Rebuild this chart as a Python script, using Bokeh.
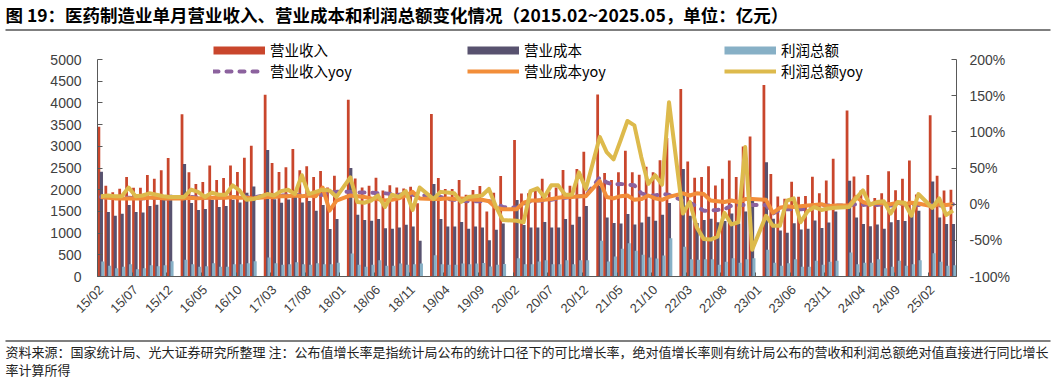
import math
from bokeh.plotting import figure
from bokeh.layouts import column
from bokeh.models import (Range1d, LinearAxis, FixedTicker, PrintfTickFormatter, Label,
                          Legend, LegendItem, BoxAnnotation, ColumnDataSource)
from bokeh.transform import dodge
from bokeh.embed import file_html
from bokeh.resources import INLINE

# ---------------- data ----------------
months = [
    "15/02", "15/03", "15/04", "15/05", "15/06", "15/07", "15/08", "15/09", "15/10", "15/11", "15/12",
    "16/01", "16/02", "16/03", "16/04", "16/05", "16/06", "16/07", "16/08", "16/09", "16/10", "16/11", "16/12",
    "17/01", "17/02", "17/03", "17/04", "17/05", "17/06", "17/07", "17/08", "17/09", "17/10", "17/11", "17/12",
    "18/01", "18/02", "18/03", "18/04", "18/05", "18/06", "18/07", "18/08", "18/09", "18/10", "18/11", "18/12",
    "19/01", "19/02", "19/03", "19/04", "19/05", "19/06", "19/07", "19/08", "19/09", "19/10", "19/11", "19/12",
    "20/01", "20/02", "20/03", "20/04", "20/05", "20/06", "20/07", "20/08", "20/09", "20/10", "20/11", "20/12",
    "21/01", "21/02", "21/03", "21/04", "21/05", "21/06", "21/07", "21/08", "21/09", "21/10", "21/11", "21/12",
    "22/01", "22/02", "22/03", "22/04", "22/05", "22/06", "22/07", "22/08", "22/09", "22/10", "22/11", "22/12",
    "23/01", "23/02", "23/03", "23/04", "23/05", "23/06", "23/07", "23/08", "23/09", "23/10", "23/11", "23/12",
    "24/01", "24/02", "24/03", "24/04", "24/05", "24/06", "24/07", "24/08", "24/09", "24/10", "24/11", "24/12",
    "25/01", "25/02", "25/03", "25/04", "25/05",
]

tick_labels = ["15/02", "15/07", "15/12", "16/05", "16/10", "17/03", "17/08", "18/01", "18/06",
               "18/11", "19/04", "19/09", "20/02", "20/07", "20/12", "21/05", "21/10", "22/03",
               "22/08", "23/01", "23/06", "23/11", "24/04", "24/09", "25/02"]

# 营业收入 (亿元)
revenue = [
    3450, 2090, 1940, 2020, 2290, 2045, 2045, 2340, 2250, 2450, 2730,
    None, 3740, 2400, 2130, 2180, 2555, 2225, 2270, 2555, 2405, 2735, 3010,
    None, 4185, 2615, 2405, 2515, 2940, 2450, 2540, 2290, 2430, 2050, 2320,
    None, 4070, 2260, 2050, 2090, 2275, 1980, 2100, 2050, 2030, 2070, 1690,
    None, 3745, 2270, 2015, 2015, 2225, 1885, 1995, 2085, 1500, 1930, 2315,
    None, 3145, 1915, 1920, 1980, 2250, 1950, 2050, 2455, 2090, 2475, 2875,
    None, 4195, 2385, 2225, 2400, 2900, 2400, 2345, 2530, 2400, 2680, 3190,
    None, 4320, 2648, 2275, 2295, 2540, 2095, 2250, 2670, 2295, 2995, 3225,
    None, 4410, 2363, 1845, 1790, 2183, 1840, 1852, 2298, 1918, 2210, 2713,
    None, 3823, 2304, 1980, 2340, 1810, 1920, 2425, 1990, 2255, 2670, 1889,
    None, 3715, 2320, 1980, 2000,
]

# 营业成本 (亿元)
cost = [
    2415, 1484, 1400, 1446, 1646, 1484, 1477, 1623, 1653, 1760, 1884,
    None, 2592, 1692, 1530, 1553, 1769, 1600, 1623, 1769, 1707, 1930, 2075,
    None, 2915, 1780, 1700, 1776, 1990, 1707, 1738, 1515, 1646, 1092, 1323,
    None, 2499, 1423, 1300, 1284, 1323, 1110, 1100, 1130, 1192, 1153, 823,
    None, 2130, 1323, 1153, 1153, 1253, 1100, 1153, 1130, 838, 1077, 1223,
    None, 1761, 1184, 1130, 1130, 1253, 1130, 1130, 1323, 1192, 1377, 1623,
    None, 2092, 1361, 1230, 1223, 1438, 1200, 1246, 1377, 1284, 1423, 1692,
    None, 2476, 1400, 1230, 1300, 1330, 1250, 1280, 1450, 1220, 1500, 1750,
    None, 2630, 1329, 1060, 1006, 1229, 1083, 1098, 1290, 1115, 1246, 1500,
    None, 2207, 1361, 1210, 1160, 1200, 1100, 1250, 1300, 1280, 1430, 1515,
    None, 2190, 1361, 1210, 1210,
]

# 利润总额 (亿元)
profit = [
    346, 246, 192, 223, 285, 169, 192, 261, 238, 261, 354,
    None, 385, 285, 223, 238, 308, 223, 223, 285, 285, 308, 354,
    None, 438, 308, 269, 285, 330, 285, 270, 308, 285, 285, 315,
    None, 531, 269, 223, 269, 377, 250, 250, 300, 269, 285, 300,
    None, 492, 285, 270, 270, 300, 285, 300, 310, 230, 270, 290,
    None, 423, 285, 285, 346, 377, 285, 285, 377, 285, 377, 377,
    None, 823, 346, 461, 638, 769, 592, 500, 438, 415, 484, 884,
    None, 684, 400, 385, 400, 400, 269, 338, 423, 315, 400, 423,
    None, 615, 315, 246, 308, 400, 223, 223, 361, 269, 338, 361,
    None, 554, 285, 315, 315, 400, 192, 223, 361, 246, 285, 377,
    None, 538, 338, 246, 261,
]

# 营业收入yoy (%)
revenue_yoy = [
    10, 9, 9, 8, 9, 8, 8, 9, 9, 8, 8,
    None, 9, 10, 9, 9, 10, 9, 10, 10, 9, 10, 9,
    None, 13, 12, 12, 12, 13, 12, 13, 12, 13, 16, 17,
    None, 17, 16, 16, 16, 15, 15, 14, 13, 14, 13, 12,
    None, 12, 10, 7, 6, 5, 4, 4, 4, 4, 2, -4,
    None, -5, 0, 4, 5, 5, 6, 8, 9, 10, 11, 12,
    None, 37, 30, 27, 28, 27, 26, 15, 12, 12, 14, 13,
    None, 5, 2, -3, -9, -9, -8, -7, -2, -1, -1, -1,
    None, -1, -13, -8, -7, -7, -7, -6, -3, -2, -2, -2,
    None, -2, 0, -1, 0, -1, 0, -2, 1, 0, -2, -1,
    None, -1, -2, -1, 0,
]

# 营业成本yoy (%)
cost_yoy = [
    10, 9, 8, 8, 8, 8, 8, 9, 9, 8, 8,
    None, 8, 9, 8, 9, 9, 9, 9, 10, 9, 9, 8,
    None, 10, 10, 11, 11, 12, 11, 12, 11, 23, -9, 5,
    None, 12, 11, 10, 8, 7, 5, 6, 8, 12, 17, 8,
    None, 7, 7, 8, 7, 8, 7, 6, 6, 4, -5, -7,
    None, -7, 2, 5, 5, 6, 7, 9, 10, 10, 11, 11,
    None, 32, 10, 8, 11, 12, 6, 7, 12, 8, 6, 10,
    None, 15, 12, 15, 14, 5, 4, 3, 5, 3, 7, 7,
    None, 6, -12, -5, -3, -4, -3, -2, -1, 0, -3, -2,
    None, -2, 10, 3, 0, 2, 1, 0, 2, 0, 2, 1,
    None, -3, 0, -1, 0,
]

# 利润总额yoy (%)
profit_yoy = [
    11, 12, 11, 11, 23, 11, 12, 15, 13, 11, 10,
    None, 10, 20, 17, 10, 16, 13, 13, 26, 19, 6, 7,
    None, 14, 12, 18, 20, 14, 40, 14, 17, 20, 19, 10,
    None, 37, 3, 2, 5, 12, -4, 13, 10, 18, -8, 23,
    None, 7, 17, 16, 15, 3, 10, 11, 12, 21, -3, -22,
    None, -23, -25, 18, 22, 10, 26, 26, 13, 13, 44, 21,
    None, 93, 72, 62, 88, 115, 109, 65, 28, 40, 27, 141,
    None, -13, 3, -32, -48, -49, -45, -12, -28, -25, 79, -63,
    None, -16, -30, -30, 5, 8, -25, -10, -4, -8, -6, -5,
    None, -4, 8, 19, -1, 3, 4, -13, 3, 2, -16, 14,
    None, -5, 8, -15, -9,
]

TITLE = "图 19：医药制造业单月营业收入、营业成本和利润总额变化情况（2015.02~2025.05，单位：亿元）"
NOTE1 = "资料来源：国家统计局、光大证券研究所整理  注：公布值增长率是指统计局公布的统计口径下的可比增长率，绝对值增长率则有统计局公布的营收和利润总额绝对值直接进行同比增长"
NOTE2 = "率计算所得"

RED = "#C9462C"
DARK = "#58526F"
LIGHT = "#87B0C6"
PURPLE = "#8C629E"
ORANGE = "#F28E3A"
YELLOW = "#DDBA4C"
AXIS = "#595959"
RULE = "#7F7F7F"
CJK = "Noto Sans CJK SC"
LAT = "Liberation Sans"

W = 1055
TOP_H = 40            # canvas rows 0..40   : title + rule
MAIN_H = 290          # canvas rows 40..330 : chart
BOT_H = 49            # canvas rows 330..379: notes
F_LEFT, F_RIGHT = 97, 956      # plot-area left/right (px)
F_TOP, F_BOT = 40, 276         # frame top/bottom (px); value axes span 59..276
AX_TOP = 59


def no_align(f):
    try:
        f.frame_align = False
    except Exception:
        pass


def blank(h):
    f = figure(width=W, height=h, x_range=Range1d(0, 1), y_range=Range1d(0, 1),
               output_backend="svg", toolbar_location=None, title=None,
               x_axis_type=None, y_axis_type=None,
               min_border_left=0, min_border_right=0, min_border_top=0, min_border_bottom=0)
    f.outline_line_color = None
    f.background_fill_color = "white"
    f.border_fill_color = "white"
    no_align(f)
    return f


def hrule(f, h, y0, y1):
    f.add_layout(BoxAnnotation(left=5, right=1050, top=h - y0, bottom=h - y1,
                               left_units="screen", right_units="screen",
                               top_units="screen", bottom_units="screen",
                               fill_color=RULE, fill_alpha=1, line_color=None))


# ---------------- top: title ----------------
top = blank(TOP_H)
top.add_layout(Label(x=5, y=TOP_H - 13.5, x_units="screen", y_units="screen", text=TITLE,
                     text_baseline="middle", text_align="left", text_font=CJK,
                     text_font_size="17.5px", text_font_style="bold", text_color="#000000"))
hrule(top, TOP_H, 28.5, 30.5)

# ---------------- main chart ----------------
frame_h = F_BOT - F_TOP
axis_h = F_BOT - AX_TOP
y_max = 5000
yoy_min, yoy_max = -100, 200
p = figure(width=W, height=MAIN_H, x_range=Range1d(-0.5, len(months) - 0.5),
           y_range=Range1d(0, y_max * frame_h / axis_h),
           output_backend="svg", toolbar_location=None, title=None,
           min_border_left=F_LEFT, min_border_right=W - F_RIGHT,
           min_border_top=0, min_border_bottom=MAIN_H - (F_BOT - F_TOP))
no_align(p)
p.extra_y_ranges = {"yoy": Range1d(yoy_min, yoy_min + (yoy_max - yoy_min) * frame_h / axis_h)}
p.xgrid.grid_line_color = None
p.ygrid.grid_line_color = None
p.outline_line_color = None
p.background_fill_color = "white"
p.border_fill_color = "white"


def valid(vals):
    xs = [i for i, v in enumerate(vals) if v is not None]
    return xs, [vals[i] for i in xs]


bx, rv = valid(revenue)
_, cv = valid(cost)
_, pv = valid(profit)
bars = ColumnDataSource(dict(x=bx, revenue=rv, cost=cv, profit=pv))
p.vbar(x=dodge("x", -0.30, range=p.x_range), top="revenue", width=0.40, source=bars,
       fill_color=RED, line_color=None)
p.vbar(x=dodge("x", 0.06, range=p.x_range), top="cost", width=0.46, source=bars,
       fill_color=DARK, line_color=None)
p.vbar(x=dodge("x", 0.26, range=p.x_range), top="profit", width=0.44, source=bars,
       fill_color=LIGHT, line_color=None)

lx, ry = valid(revenue_yoy)
_, cy = valid(cost_yoy)
_, py = valid(profit_yoy)
lines = ColumnDataSource(dict(x=lx, rev=ry, cost=cy, prof=py))
l_rev = p.line("x", "rev", source=lines, y_range_name="yoy", line_color=PURPLE, line_width=4,
               line_dash="5 8", line_cap="round", line_join="round")
l_cost = p.line("x", "cost", source=lines, y_range_name="yoy", line_color=ORANGE, line_width=4,
                line_join="round")
l_prof = p.line("x", "prof", source=lines, y_range_name="yoy", line_color=YELLOW, line_width=4,
                line_join="round")

# legend proxies for the bar series (a single NaN point, draws nothing in the plot)
nan = float("nan")
px_red = p.line(x=[nan], y=[nan], line_color=RED, line_width=8)
px_dark = p.line(x=[nan], y=[nan], line_color=DARK, line_width=8)
px_light = p.line(x=[nan], y=[nan], line_color=LIGHT, line_width=8)

# axes
xa = p.xaxis[0]
tick_pos = [months.index(t) for t in tick_labels]
xa.ticker = FixedTicker(ticks=tick_pos, minor_ticks=[k - 0.5 for k in range(0, len(months) + 1, 5)])
xa.major_label_overrides = {pos: lab for pos, lab in zip(tick_pos, tick_labels)}
xa.major_label_orientation = math.pi / 4
xa.major_tick_line_color = None
xa.minor_tick_in = 4
xa.minor_tick_out = 0
xa.minor_tick_line_color = AXIS
xa.axis_line_color = AXIS
xa.major_label_standoff = 5
xa.major_label_text_font = LAT
xa.major_label_text_font_size = "13px"
xa.major_label_text_color = "#404040"

ya = p.yaxis[0]
ya.ticker = FixedTicker(ticks=list(range(0, y_max + 1, 500)))
ya.bounds = (0, y_max)
ya.major_tick_in = 5
ya.major_tick_out = 0
ya.minor_tick_line_color = None
ya.axis_line_color = AXIS
ya.major_tick_line_color = AXIS
ya.major_label_standoff = 16
ya.major_label_text_font = LAT
ya.major_label_text_font_size = "14px"
ya.major_label_text_color = "#404040"

ra = LinearAxis(y_range_name="yoy", ticker=FixedTicker(ticks=list(range(yoy_min, yoy_max + 1, 50))),
                formatter=PrintfTickFormatter(format="%d%%"), bounds=(yoy_min, yoy_max))
ra.major_tick_in = 5
ra.major_tick_out = 0
ra.minor_tick_line_color = None
ra.axis_line_color = AXIS
ra.major_tick_line_color = AXIS
ra.major_label_standoff = 13
ra.major_label_text_font = LAT
ra.major_label_text_font_size = "14px"
ra.major_label_text_color = "#404040"
p.add_layout(ra, "right")


# legends: one legend per entry, rows centred at y=52 and y=73 px
def add_legend(label, rend, swatch_left, row_center):
    lg = Legend(items=[LegendItem(label=label, renderers=[rend])],
                location=(swatch_left - F_LEFT, F_BOT - (row_center + 8)),
                orientation="vertical", glyph_width=52, glyph_height=16, label_height=16,
                label_standoff=5, spacing=0, padding=0, margin=0, border_line_color=None,
                background_fill_alpha=0, label_text_font=CJK, label_text_font_size="14.5px",
                label_text_color="#000000")
    p.add_layout(lg)


add_legend("营业收入", px_red, 213, 52)
add_legend("营业成本", px_dark, 467, 52)
add_legend("利润总额", px_light, 724, 52)
add_legend("营业收入yoy", l_rev, 213, 73)
add_legend("营业成本yoy", l_cost, 467, 73)
add_legend("利润总额yoy", l_prof, 724, 73)

# ---------------- bottom: notes ----------------
bot = blank(BOT_H)
hrule(bot, BOT_H, 9.5, 11.5)
bot.add_layout(Label(x=5, y=BOT_H - 21, x_units="screen", y_units="screen", text=NOTE1,
                     text_baseline="middle", text_align="left", text_font=CJK,
                     text_font_size="13px", text_color="#222222"))
bot.add_layout(Label(x=5, y=BOT_H - 39, x_units="screen", y_units="screen", text=NOTE2,
                     text_baseline="middle", text_align="left", text_font=CJK,
                     text_font_size="13px", text_color="#222222"))

layout = column(top, p, bot, spacing=0)
open("out.html", "w").write(file_html(layout, INLINE))
